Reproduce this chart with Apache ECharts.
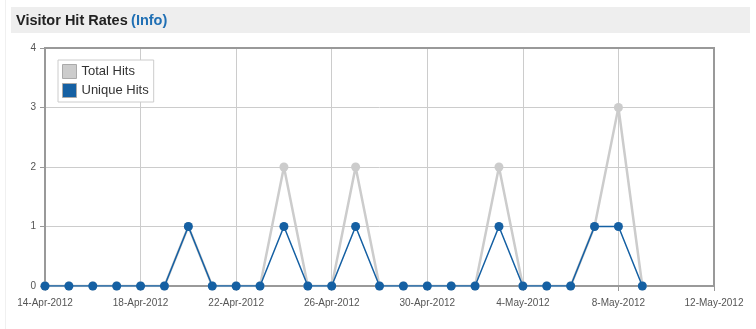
<!DOCTYPE html>
<html><head><meta charset="utf-8">
<script src="https://cdn.jsdelivr.net/npm/echarts@6/dist/echarts.min.js"></script>
<style>html,body{margin:0;padding:0;background:#fff}#c{width:756px;height:329px}</style>
</head><body><div id="c"></div>
<script>
var dates = ['2012-04-14','2012-04-15','2012-04-16','2012-04-17','2012-04-18','2012-04-19','2012-04-20','2012-04-21','2012-04-22','2012-04-23','2012-04-24','2012-04-25','2012-04-26','2012-04-27','2012-04-28','2012-04-29','2012-04-30','2012-05-01','2012-05-02','2012-05-03','2012-05-04','2012-05-05','2012-05-06','2012-05-07','2012-05-08','2012-05-09'];
var totalHits  = [0,0,0,0,0,0,1,0,0,0,2,0,0,2,0,0,0,0,0,2,0,0,0,1,3,0];
var uniqueHits = [0,0,0,0,0,0,1,0,0,0,1,0,0,1,0,0,0,0,0,1,0,0,0,1,1,0];
var tickLabels = ['14-Apr-2012','18-Apr-2012','22-Apr-2012','26-Apr-2012','30-Apr-2012','4-May-2012','8-May-2012','12-May-2012'];
var startDate = '2012-04-14';
var yTicks = [0,1,2,3,4];

function dayIndex(s){ return Math.round((Date.parse(s) - Date.parse(startDate)) / 86400000); }
var totalData = dates.map(function(d,i){ return [dayIndex(d), totalHits[i]]; });
var uniqueData = dates.map(function(d,i){ return [dayIndex(d), uniqueHits[i]]; });

var chart = echarts.init(document.getElementById('c'));
chart.setOption({
  animation:false,
  textStyle:{fontFamily:'Liberation Sans, Arial, sans-serif'},
  graphic:[
    {type:'line', shape:{x1:5.5,y1:0,x2:5.5,y2:329}, style:{stroke:'#f0f0f0',lineWidth:1}, silent:true},
    {type:'rect', shape:{x:11,y:7,width:739,height:26}, style:{fill:'#eeeeee'}, silent:true},
    {type:'text', left:16, top:13, style:{rich:{a:{fontSize:14.5,fontWeight:'bold',fill:'#222',fontFamily:'Liberation Sans, Arial, sans-serif'},b:{fontSize:14.5,fontWeight:'bold',fill:'#1f6fb4',fontFamily:'Liberation Sans, Arial, sans-serif'}}, text:'{a|Visitor Hit Rates} {b|(Info)}'}},
    {type:'rect', shape:{x:45,y:48,width:669,height:238}, style:{fill:'none',stroke:'#999999',lineWidth:2}, silent:true, z:1}
  ],
  legend:{
    left:58, top:60, orient:'vertical', itemGap:4, itemWidth:14, itemHeight:14, padding:[4,5,4,4],
    backgroundColor:'#fff', borderColor:'#cccccc', borderWidth:1,
    textStyle:{fontSize:13,color:'#333'},
    data:[
      {name:'Total Hits', icon:'rect', itemStyle:{color:'#cccccc',borderColor:'#aaaaaa',borderWidth:1}},
      {name:'Unique Hits', icon:'rect', itemStyle:{color:'#1560a3',borderColor:'#aaaaaa',borderWidth:1}}
    ]
  },
  grid:{left:45,right:42,top:48,bottom:43},
  xAxis:{
    type:'value', min:0, max:28, interval:4,
    axisLine:{show:true,onZero:false,lineStyle:{color:'#999999',width:2}},
    axisTick:{show:true,length:5,lineStyle:{color:'#999999'}},
    axisLabel:{fontSize:10,color:'#555',margin:12,formatter:function(v){return tickLabels[v/4]||'';}},
    splitLine:{show:true,lineStyle:{color:'#cccccc',width:1}}
  },
  yAxis:{
    type:'value', min:0, max:4, interval:1,
    axisLine:{show:true,lineStyle:{color:'#999999',width:2}},
    axisTick:{show:true,length:5,lineStyle:{color:'#999999'}},
    axisLabel:{fontSize:10,color:'#555',margin:9,formatter:function(v){return yTicks.indexOf(v)>=0?String(v):'';}},
    splitLine:{show:true,lineStyle:{color:'#cccccc',width:1}}
  },
  series:[
    {name:'Total Hits', type:'line', data:totalData, symbol:'circle', symbolSize:9,
     lineStyle:{color:'#cccccc',width:2.5}, itemStyle:{color:'#cccccc'}, z:2},
    {name:'Unique Hits', type:'line', data:uniqueData, symbol:'circle', symbolSize:9,
     lineStyle:{color:'#1560a3',width:1.5}, itemStyle:{color:'#1560a3'}, z:3}
  ]
});
</script></body></html>
